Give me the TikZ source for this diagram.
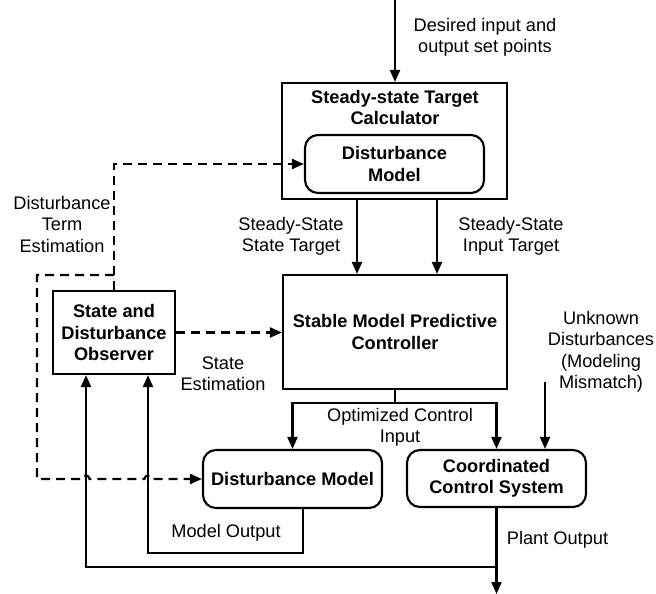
\documentclass[tikz,border=0pt]{standalone}
\usepackage{fontspec}
\setmainfont{Liberation Sans}
\usetikzlibrary{arrows.meta,calc}
\begin{document}
\begin{tikzpicture}[x=1pt,y=-1pt,
  txt/.style={align=center, inner sep=0, font=\fontsize{18.2}{21.5}\selectfont},
  btxt/.style={align=center, inner sep=0, font=\fontsize{18.2}{21.5}\selectfont\bfseries},
  box/.style={draw, line width=2.1pt, inner sep=0, btxt},
  rbox/.style={box, rounded corners=13pt},
  wire/.style={line width=2.1pt},
  arr/.style={line width=2.1pt, -{Triangle[length=12pt,width=10pt]}},
  dsh/.style={line width=2.1pt, dash pattern=on 9pt off 6pt},
  dsharr/.style={dsh, -{Triangle[length=12pt,width=10pt]}}]
\useasboundingbox (0,0) rectangle (656,594);

% boxes
\node[box, minimum width=225pt, minimum height=116pt] (stc) at (394.5,141) {};
\node[btxt] (stct) at (395,107.5) {Steady-state Target\\Calculator};
\node[rbox, minimum width=179pt, minimum height=58pt] (idm) at (394.5,164) {Disturbance\\Model};
\node[box, minimum width=224pt, minimum height=114pt] (mpc) at (395,332) {Stable Model Predictive\\Controller};
\node[box, minimum width=122pt, minimum height=83pt] (obs) at (114,332.5) {State and\\Disturbance\\Observer};
\node[rbox, minimum width=179pt, minimum height=58pt] (dm2) at (292.5,479) {Disturbance Model};
\node[rbox, minimum width=179pt, minimum height=57pt] (ccs) at (496.5,478.5) {Coordinated\\Control System};

% labels
\node[txt] (l1) at (485,37.5) {Desired input and\\output set points};
\node[txt] (l2) at (291,236.5) {Steady-State\\State Target};
\node[txt] (l3) at (511,236.5) {Steady-State\\Input Target};
\node[txt] (l4) at (62,224) {Disturbance\\Term\\Estimation};
\node[txt] (l5) at (223,373.5) {State\\Estimation};
\node[txt] (l6) at (400,427.5) {Optimized Control\\Input};
\node[txt] (l7) at (601,352) {Unknown\\Disturbances\\(Modeling\\Mismatch)};
\node[txt] (l8) at (226,533) {Model Output};
\node[txt] (l9) at (557.5,540) {Plant Output};

% free ends
\coordinate (top) at (395,0);
\coordinate (ud) at (545,382);
\coordinate (pout) at (496.5,594);
\coordinate (fb) at (496.5,567);
\coordinate (br) at (114,275);
\coordinate (dcorner) at (37,479);
\coordinate (hopA) at (86,479);
\coordinate (hopB) at (148,479);

% solid connectors
\draw[arr] (top) -- (top |- stc.north);
\draw[arr] ([xshift=-37.5]stc.south) -- ([xshift=-37.5]stc.south |- mpc.north);
\draw[arr] ([xshift=42.5]stc.south) -- ([xshift=42.5]stc.south |- mpc.north);
\draw[wire] (mpc.south) -- ++(0,13) coordinate (split);
\draw[arr] (split) -| (dm2.north);
\draw[arr] (split) -| (ccs.north);
\draw[arr] (ud) -- (ud |- ccs.north);
\draw[arr] (ccs.south) -- (pout);
\draw[arr] (fb) -| ([xshift=-28]obs.south);
\draw[arr] ([xshift=10.5]dm2.south) -- ++(0,44) -| ([xshift=34]obs.south);

% dashed connectors
\draw[dsharr] (obs.east) -- (obs.east -| mpc.west);
\draw[dsharr] (obs.north) |- (idm.west);
\draw[dsharr] (br) -| (dcorner) -- ([xshift=-3.5]hopA)
  arc[start angle=180, end angle=0, radius=3.5pt]
  -- ([xshift=-3.5]hopB)
  arc[start angle=180, end angle=0, radius=3.5pt]
  -- (dm2.west);
\end{tikzpicture}
\end{document}
